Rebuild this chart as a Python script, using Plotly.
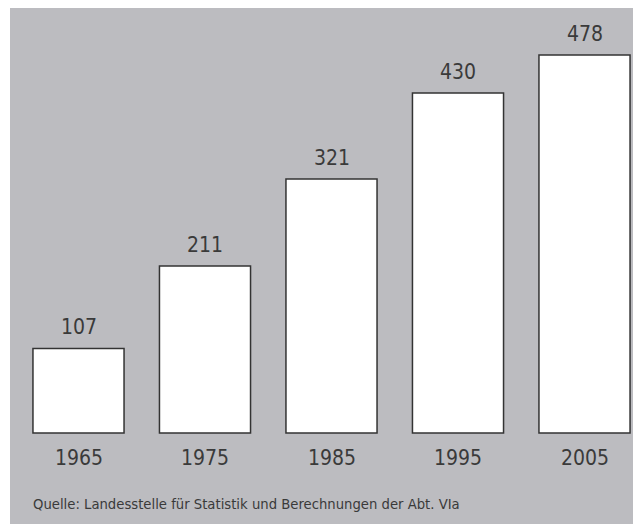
import plotly.graph_objects as go

years = ["1965", "1975", "1985", "1995", "2005"]
values = [107, 211, 321, 430, 478]
quelle = "Quelle: Landesstelle für Statistik und Berechnungen der Abt. VIa"

FONT = "Liberation Sans Narrow, DejaVu Sans Condensed, Liberation Sans, sans-serif"
pos = list(range(len(years)))

fig = go.Figure()
fig.add_trace(go.Bar(
    x=pos, y=values, width=0.72,
    marker=dict(color="white", line=dict(color="#333333", width=1.5)),
    hoverinfo="skip",
))

# Werte über den Balken
for i, v in zip(pos, values):
    fig.add_annotation(x=i, y=v, text=str(v), showarrow=False,
                       yanchor="bottom", yshift=7,
                       font=dict(family=FONT, size=21, color="#3a3a3a"))

# Jahreszahlen unter den Balken
for i, y in zip(pos, years):
    fig.add_annotation(x=i, y=0, text=y, showarrow=False,
                       yanchor="top", yshift=-11,
                       font=dict(family=FONT, size=21, color="#3a3a3a"))

fig.add_annotation(x=0, y=0, xref="paper", yref="paper", xanchor="left", yanchor="middle",
                   xshift=21, yshift=21, text=quelle, showarrow=False,
                   font=dict(family=FONT, size=14.7, color="#3a3a3a"))

# Seite hat 8px Rand -> Abbildung etwas kleiner
fig.update_layout(
    width=633, height=516,
    margin=dict(l=2, r=0, t=0, b=0),
    paper_bgcolor="white",
    plot_bgcolor="#bcbcc0",
    showlegend=False,
    xaxis=dict(range=[-0.5415, 4.4466], visible=False, fixedrange=True),
    yaxis=dict(range=[-115, 537.3], visible=False, fixedrange=True),
)

fig.write_html("out.html")
